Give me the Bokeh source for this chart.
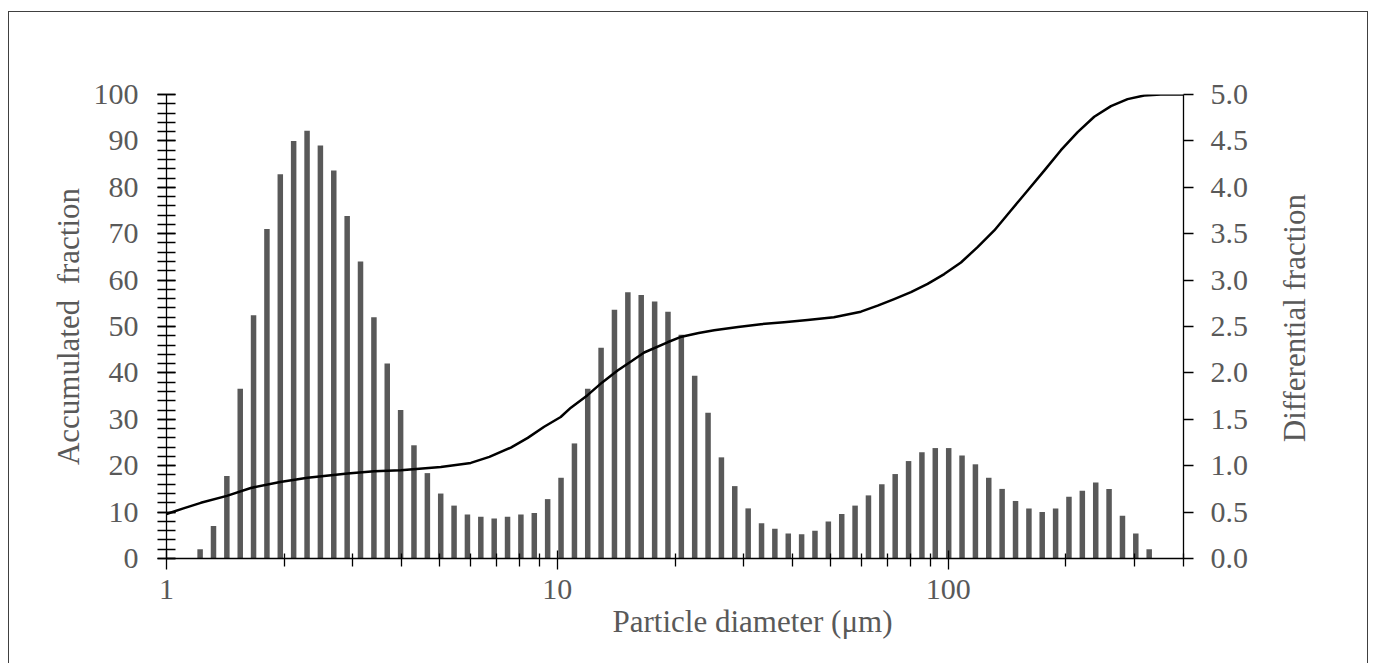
import math
from bokeh.plotting import figure
from bokeh.models import (Range1d, LinearAxis, SingleIntervalTicker, FixedTicker,
                          NumeralTickFormatter, Title)
from bokeh.embed import file_html
from bokeh.resources import INLINE

# ---- data ----
bar_diameters = [1.219, 1.319, 1.427, 1.544, 1.670, 1.807, 1.955, 2.115, 2.289, 2.476,
                 2.679, 2.899, 3.136, 3.394, 3.671, 3.972, 4.297, 4.650, 5.030, 5.442,
                 5.888, 6.371, 6.893, 7.457, 8.068, 8.730, 9.445, 10.22, 11.06, 11.96,
                 12.94, 14.00, 15.15, 16.39, 17.74, 19.19, 20.76, 22.46, 24.30, 26.29,
                 28.44, 30.78, 33.30, 36.02, 38.98, 42.17, 45.62, 49.36, 53.41, 57.78,
                 62.52, 67.64, 73.18, 79.18, 85.66, 92.68, 100.3, 108.5, 117.4, 127.0,
                 137.4, 148.7, 160.9, 174.0, 188.3, 203.7, 220.4, 238.5, 258.0, 279.2,
                 302.0, 326.8]
bar_values = [0.10, 0.35, 0.89, 1.83, 2.62, 3.55, 4.14, 4.50, 4.61, 4.45,
              4.18, 3.69, 3.20, 2.60, 2.10, 1.60, 1.22, 0.92, 0.70, 0.57,
              0.475, 0.45, 0.43, 0.45, 0.475, 0.49, 0.64, 0.87, 1.24, 1.83,
              2.27, 2.68, 2.87, 2.84, 2.77, 2.66, 2.41, 1.97, 1.57, 1.09,
              0.78, 0.54, 0.38, 0.32, 0.27, 0.26, 0.30, 0.40, 0.48, 0.57,
              0.68, 0.80, 0.91, 1.05, 1.145, 1.19, 1.19, 1.11, 1.015, 0.87,
              0.75, 0.62, 0.54, 0.50, 0.54, 0.665, 0.73, 0.82, 0.75, 0.46,
              0.27, 0.10]

curve_diameters = [1.000, 1.105, 1.224, 1.427, 1.643, 1.953, 2.295, 2.906, 3.400, 3.977,
                   5.033, 6.006, 6.700, 7.603, 8.400, 9.252, 10.20, 10.83, 11.95, 13.00,
                   14.26, 15.40, 16.68, 19.14, 20.79, 23.00, 25.19, 29.00, 33.17, 38.00,
                   43.68, 51.00, 59.80, 66.00, 72.75, 80.30, 88.60, 97.70, 107.8, 118.9,
                   131.2, 144.7, 159.7, 176.1, 194.3, 214.4, 236.4, 260.9, 287.7, 317.3,
                   350.1, 400.0]
curve_values = [9.6, 10.8, 12.0, 13.5, 15.2, 16.5, 17.4, 18.3, 18.8, 19.0,
                19.7, 20.6, 21.9, 23.9, 26.0, 28.4, 30.5, 32.5, 35.2, 37.9,
                40.5, 42.4, 44.4, 46.6, 47.8, 48.6, 49.2, 49.9, 50.5, 50.9,
                51.4, 52.0, 53.2, 54.5, 55.9, 57.4, 59.2, 61.3, 63.8, 67.1,
                70.7, 75.0, 79.3, 83.6, 88.0, 91.9, 95.2, 97.5, 99.0, 99.8,
                100.0, 100.0]

x_major_ticks = [1, 10, 100]
x_major_labels = ["1", "10", "100"]
x_minor_ticks = [2, 3, 4, 5, 6, 7, 8, 9, 20, 30, 40, 50, 60, 70, 80, 90, 200, 300, 400]

FONT = "Liberation Serif"
TXT = "#595959"

p = figure(width=1360, height=652, margin=(11, 0, 0, 8),
           x_axis_type="log", x_range=Range1d(1, 400), y_range=Range1d(0, 100),
           output_backend="svg", toolbar_location=None,
           min_border_left=157, min_border_right=186, min_border_top=82, min_border_bottom=106,
           styles={"border-top": "1px solid #404040", "border-left": "1px solid #404040",
                   "border-right": "1px solid #404040"})
p.extra_y_ranges = {"diff": Range1d(0, 5)}
p.outline_line_color = None
p.xgrid.visible = False
p.ygrid.visible = False
p.background_fill_color = "white"
p.border_fill_color = "white"

# bars (differential fraction, right axis)
p.segment(x0=bar_diameters, y0=[0] * len(bar_values), x1=bar_diameters, y1=bar_values,
          y_range_name="diff", line_width=5.5, line_color="#595959", line_cap="butt")
# accumulated curve (left axis)
p.line(curve_diameters, curve_values, line_color="black", line_width=2.5,
       line_join="round")

# x axis
xa = p.xaxis[0]
xa.ticker = FixedTicker(ticks=x_major_ticks, minor_ticks=x_minor_ticks)
xa.major_label_overrides = {t: l for t, l in zip(x_major_ticks, x_major_labels)}
xa.axis_line_color = "black"
xa.axis_line_width = 1.3
xa.major_tick_line_color = "black"
xa.minor_tick_line_color = "black"
xa.major_tick_line_width = 1.3
xa.minor_tick_line_width = 1.3
xa.major_tick_in = 8
xa.major_tick_out = 11
xa.minor_tick_in = 5
xa.minor_tick_out = 8
xa.major_label_text_font = FONT
xa.major_label_text_font_size = "30px"
xa.major_label_text_color = TXT
xa.major_label_standoff = 10

p.add_layout(Title(text="Particle diameter (\u03bcm)", align="left", offset=446,
                   text_font=FONT, text_font_size="31px", text_color=TXT,
                   text_font_style="normal", standoff=0), "below")

# left axis
ya = p.yaxis[0]
ya.ticker = SingleIntervalTicker(interval=10, num_minor_ticks=5)
ya.axis_line_color = "black"
ya.axis_line_width = 1.3
ya.major_tick_line_color = "black"
ya.minor_tick_line_color = "black"
ya.major_tick_line_width = 1.3
ya.minor_tick_line_width = 1.3
ya.major_tick_in = 9
ya.major_tick_out = 9
ya.minor_tick_in = 9
ya.minor_tick_out = 9
ya.major_label_text_font = FONT
ya.major_label_text_font_size = "30px"
ya.major_label_text_color = TXT
ya.major_label_standoff = 19
ya.axis_label = "Accumulated\u00a0 fraction"
ya.axis_label_text_font = FONT
ya.axis_label_text_font_size = "31px"
ya.axis_label_text_font_style = "normal"
ya.axis_label_text_color = TXT
ya.axis_label_standoff = 5

# right axis
ra = LinearAxis(y_range_name="diff",
                ticker=SingleIntervalTicker(interval=0.5, num_minor_ticks=0),
                formatter=NumeralTickFormatter(format="0.0"))
ra.axis_line_color = "black"
ra.axis_line_width = 1.3
ra.major_tick_line_color = "black"
ra.major_tick_line_width = 1.3
ra.major_tick_in = 0
ra.major_tick_out = 10
ra.minor_tick_line_color = None
ra.major_label_text_font = FONT
ra.major_label_text_font_size = "30px"
ra.major_label_text_color = TXT
ra.major_label_standoff = 17
ra.axis_label = "\u00a0" * 15 + "Differential fraction"
ra.axis_label_text_font = FONT
ra.axis_label_text_font_size = "31px"
ra.axis_label_text_font_style = "normal"
ra.axis_label_text_color = TXT
ra.axis_label_standoff = 43
ra.axis_label_orientation = math.pi / 2
ra.axis_label_align = "start"
p.add_layout(ra, "right")

open("out.html", "w").write(file_html(p, INLINE))
